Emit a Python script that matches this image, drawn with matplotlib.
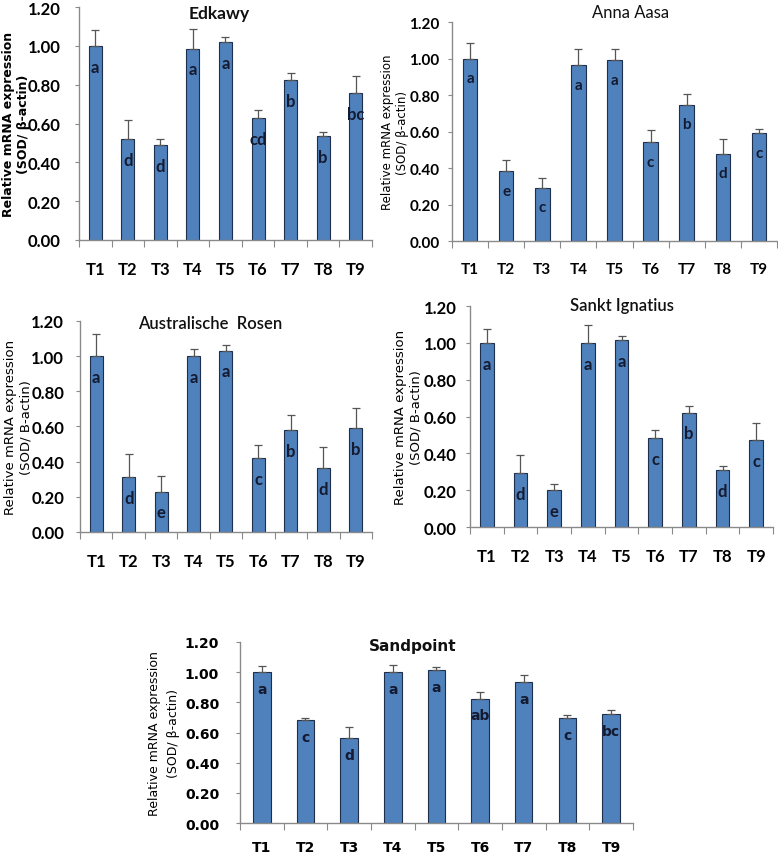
import numpy as np
import matplotlib
matplotlib.use('Agg')
from matplotlib import pyplot as plt
from matplotlib import font_manager

# treatments
cats = ['T1', 'T2', 'T3', 'T4', 'T5', 'T6', 'T7', 'T8', 'T9']
yticks = [0.0, 0.2, 0.4, 0.6, 0.8, 1.0, 1.2]

# relative expression (bar heights), upper error and significance letters
edkawy_val = [1.00, 0.519, 0.488, 0.986, 1.02, 0.629, 0.824, 0.536, 0.755]
edkawy_err = [0.08, 0.098, 0.031, 0.10, 0.027, 0.043, 0.038, 0.021, 0.09]
edkawy_let = ['a', 'd', 'd', 'a', 'a', 'cd', 'b', 'b', 'bc']

anna_val = [1.00, 0.383, 0.293, 0.964, 0.991, 0.540, 0.748, 0.478, 0.590]
anna_err = [0.085, 0.062, 0.05, 0.089, 0.062, 0.07, 0.06, 0.079, 0.026]
anna_let = ['a', 'e', 'c', 'a', 'a', 'c', 'b', 'd', 'c']

rosen_val = [1.00, 0.31, 0.23, 1.00, 1.032, 0.42, 0.579, 0.364, 0.59]
rosen_err = [0.125, 0.133, 0.086, 0.043, 0.033, 0.077, 0.088, 0.122, 0.115]
rosen_let = ['a', 'd', 'e', 'a', 'a', 'c', 'b', 'd', 'b']

sankt_val = [1.00, 0.293, 0.199, 1.00, 1.017, 0.483, 0.621, 0.31, 0.472]
sankt_err = [0.077, 0.10, 0.036, 0.095, 0.022, 0.045, 0.038, 0.021, 0.095]
sankt_let = ['a', 'd', 'e', 'a', 'a', 'c', 'b', 'd', 'c']

sand_val = [1.00, 0.68, 0.564, 1.00, 1.014, 0.825, 0.935, 0.695, 0.723]
sand_err = [0.042, 0.015, 0.072, 0.049, 0.017, 0.042, 0.048, 0.02, 0.026]
sand_let = ['a', 'c', 'd', 'a', 'a', 'ab', 'a', 'c', 'bc']

# Calibri-like narrow face if we have it
installed = {f.name for f in font_manager.fontManager.ttflist}
NARROW = 'Liberation Sans Narrow' if 'Liberation Sans Narrow' in installed else 'Lato'
WIDE = 'DejaVu Sans'
BLUE = '#4F81BD'


def panel(fig, rect, vals, errs, lets, title, title_xy, title_style,
          ylab, ylab_x, ylab_style, tick_font, tick_size, ypad, xpad,
          let_size, let_off):
    ax = fig.add_axes(rect)
    x = np.arange(1, len(cats) + 1)
    ax.bar(x, vals, width=0.4, color=BLUE, edgecolor='#1d2f4d', linewidth=0.8,
           yerr=[np.zeros(len(vals)), errs], capsize=3,
           error_kw=dict(ecolor='#555555', elinewidth=0.9, capthick=0.9))
    ax.set_xlim(0.5, len(cats) + 0.5)
    ax.set_ylim(0, 1.2)
    for s in ['top', 'right']:
        ax.spines[s].set_visible(False)
    for s in ['left', 'bottom']:
        ax.spines[s].set_color('#8a8a8a')
        ax.spines[s].set_linewidth(1.0)

    # ticks at category boundaries, labels at centres
    ax.set_xticks(np.arange(0.5, len(cats) + 1, 1.0))
    ax.set_xticklabels([])
    ax.set_xticks(x, minor=True)
    ax.set_xticklabels(cats, minor=True, family=tick_font, fontweight='bold',
                       fontsize=tick_size)
    ax.tick_params(axis='x', which='major', direction='out', length=5,
                   color='#8a8a8a')
    ax.tick_params(axis='x', which='minor', length=0, pad=xpad)
    ax.set_yticks(yticks)
    ax.set_yticklabels(['%.2f' % v for v in yticks], family=tick_font,
                       fontweight='bold', fontsize=tick_size)
    ax.tick_params(axis='y', direction='out', length=3, color='#8a8a8a',
                   pad=ypad)

    for xi, v, l in zip(x, vals, lets):
        ax.annotate(l, (xi, v), xytext=(0, let_off), textcoords='offset points',
                    ha='center', va='center', fontsize=let_size,
                    fontweight='bold', family=tick_font, color='#141a30')

    tfont, tsize, tweight = title_style
    ax.text(title_xy[0], title_xy[1], title, transform=ax.transAxes,
            ha='center', va='center', fontsize=tsize, family=tfont,
            fontweight=tweight, color='#111111')
    lsize, lweight, lspace = ylab_style
    ax.set_ylabel(ylab, fontsize=lsize, fontweight=lweight,
                  family='DejaVu Sans', linespacing=lspace)
    ax.yaxis.set_label_coords(ylab_x, 0.5)
    return ax


fig = plt.figure(figsize=(7.78, 8.54), dpi=100)

lab_beta = 'Relative mRNA expression\n(SOD/ \u03b2-actin)'
lab_b = 'Relative mRNA expression\n(SOD/ B-actin)'

panel(fig, [0.1015, 0.7178, 0.3766, 0.2728], edkawy_val, edkawy_err,
      edkawy_let, 'Edkawy', (0.478, 0.975), (NARROW, 12.5, 'bold'),
      lab_beta, -0.168, (9, 'bold', 1.2), NARROW, 12, 10, 15, 12, -15)
panel(fig, [0.581, 0.7166, 0.4177, 0.2564], anna_val, anna_err,
      anna_let, 'Anna Aasa', (0.548, 1.046), (NARROW, 12, 'normal'),
      lab_beta, -0.132, (8.5, 'normal', 1.2), NARROW, 11, 6, 15, 11, -14)
panel(fig, [0.1028, 0.3759, 0.3753, 0.2471], rosen_val, rosen_err,
      rosen_let, 'Australische  Rosen', (0.445, 0.99), (NARROW, 12, 'semibold'),
      lab_b, -0.164, (9.5, 'normal', 1.2), NARROW, 12, 8.5, 15, 12, -15)
panel(fig, [0.6041, 0.3817, 0.3895, 0.2588], sankt_val, sankt_err,
      sankt_let, 'Sankt Ignatius', (0.50, 1.005), (NARROW, 12, 'semibold'),
      lab_b, -0.158, (9.5, 'normal', 1.2), NARROW, 12, 6.5, 15, 12, -15)
panel(fig, [0.3085, 0.0351, 0.505, 0.212], sand_val, sand_err,
      sand_let, 'Sandpoint', (0.44, 0.978), (WIDE, 11, 'bold'),
      lab_beta, -0.153, (9, 'normal', 1.6), WIDE, 10, 12, 12, 10, -12)

fig.savefig('out.png', dpi=100)
